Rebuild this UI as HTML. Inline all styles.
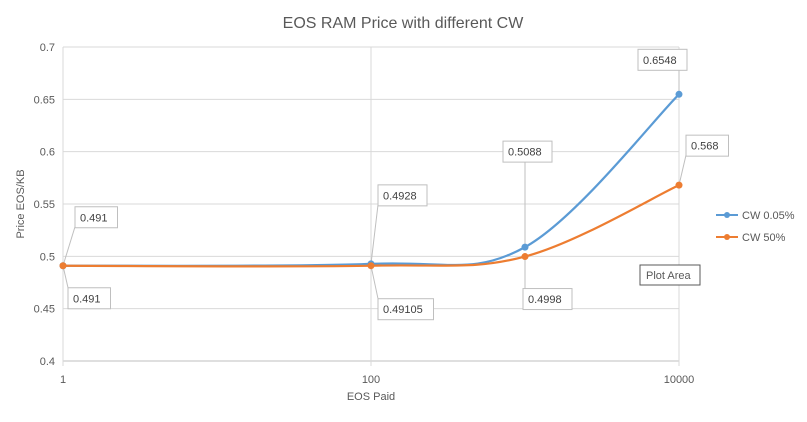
<!DOCTYPE html>
<html><head><meta charset="utf-8"><style>
body{margin:0;background:#fff;width:807px;height:417px;overflow:hidden;font-family:"Liberation Sans",Arial,sans-serif}
svg text{font-family:"Liberation Sans",Arial,sans-serif}
</style></head><body>
<svg id="chart" width="807" height="417">
<text x="403" y="28" text-anchor="middle" font-size="16" fill="#595959">EOS RAM Price with different CW</text>
<g id="grid"></g><g id="axes"></g><g id="labels"></g><g id="series"></g>
<text x="371" y="400" text-anchor="middle" font-size="11" fill="#595959">EOS Paid</text>
<text transform="translate(24,204) rotate(-90)" text-anchor="middle" font-size="11" fill="#595959">Price EOS/KB</text>
<g>
<g><line x1="716" y1="215" x2="738" y2="215" stroke="#5b9bd5" stroke-width="2"/><circle cx="727" cy="215" r="3" fill="#5b9bd5"/><text x="742" y="219" font-size="11" fill="#595959">CW 0.05%</text></g>
<g><line x1="716" y1="237" x2="738" y2="237" stroke="#ed7d31" stroke-width="2"/><circle cx="727" cy="237" r="3" fill="#ed7d31"/><text x="742" y="241" font-size="11" fill="#595959">CW 50%</text></g>
</g>
<g><rect x="640" y="265" width="60" height="20" fill="#fff" stroke="#595959"/><text x="646" y="279" font-size="11" fill="#595959">Plot Area</text></g>
</svg>
<script>
const xValues=[1,100,1000,10000];
const cw005=[0.491,0.4928,0.5088,0.6548];
const cw50=[0.491,0.49105,0.4998,0.568];
const yTicks=[0.4,0.45,0.5,0.55,0.6,0.65,0.7];
const xTicks=[1,100,10000];
const NS="http://www.w3.org/2000/svg";
const L=63,R=679,T=47,B=361;
const xs=v=>L+(Math.log10(v)/4)*(R-L);
const ys=v=>B-(v-0.4)/0.3*(B-T);
function mk(t,a,p){const e=document.createElementNS(NS,t);for(const k in a)e.setAttribute(k,a[k]);p.appendChild(e);return e;}
const grid=document.getElementById('grid'),axes=document.getElementById('axes'),ser=document.getElementById('series'),lab=document.getElementById('labels');
yTicks.forEach(v=>{const y=ys(v);
const g=mk('line',{x1:L,x2:R,y1:y,y2:y,stroke:v===0.4?'#bfbfbf':'#d9d9d9'},grid);


const t=mk('text',{x:L-8,y:y+4,'text-anchor':'end','font-size':11,fill:'#595959'},axes);t.textContent=String(v);

});
xTicks.forEach(v=>{const x=xs(v);
const g=mk('line',{x1:x,x2:x,y1:T,y2:B+5,stroke:'#d9d9d9'},grid);


const t=mk('text',{x:x,y:B+22,'text-anchor':'middle','font-size':11,fill:'#595959'},axes);t.textContent=String(v);

});
function path(vals){const p=xValues.map((x,i)=>[xs(x),ys(vals[i])]);let d='M'+p[0][0]+','+p[0][1];const k=1/6;
for(let i=0;i<p.length-1;i++){const p0=p[Math.max(i-1,0)],p1=p[i],p2=p[i+1],p3=p[Math.min(i+2,p.length-1)];
d+=' C'+(p1[0]+(p2[0]-p0[0])*k)+','+(p1[1]+(p2[1]-p0[1])*k)+' '+(p2[0]-(p3[0]-p1[0])*k)+','+(p2[1]-(p3[1]-p1[1])*k)+' '+p2[0]+','+p2[1];}return d;}
[[cw005,'#5b9bd5','cw-0.05'],[cw50,'#ed7d31','cw-50']].forEach(([vals,c,n])=>{
const pa=mk('path',{d:path(vals),fill:'none',stroke:c,'stroke-width':2.2},ser);


vals.forEach((v,i)=>{const m=mk('circle',{cx:xs(xValues[i]),cy:ys(v),r:3.5,fill:c},ser);

});});
// data label boxes: [series, index, dx, dy]
const lbls=[[cw005,0,12,-59],[cw005,1,7,-79],[cw005,2,-22,-106],[cw005,3,-41,-45],[cw50,0,5,22],[cw50,1,7,33],[cw50,2,-2,32],[cw50,3,7,-50]];
lbls.forEach(([vals,i,dx,dy])=>{const px=xs(xValues[i]),py=ys(vals[i]);const txt=String(vals[i]);const w=txt.length*6.5+10;
const bx=px+dx,by=py+dy;
const cx=Math.min(Math.max(px,bx),bx+w), cy=dy<0?by+20:by;
mk('line',{x1:px,y1:py,x2:cx,y2:cy,stroke:'#bfbfbf'},lab);
const r=mk('rect',{x:bx,y:by,width:w,height:21,fill:'#fff',stroke:'#bfbfbf'},lab);


const t=mk('text',{x:bx+5,y:by+14.5,'font-size':11,fill:'#404040'},lab);t.textContent=txt;

});
</script>
</body></html>
